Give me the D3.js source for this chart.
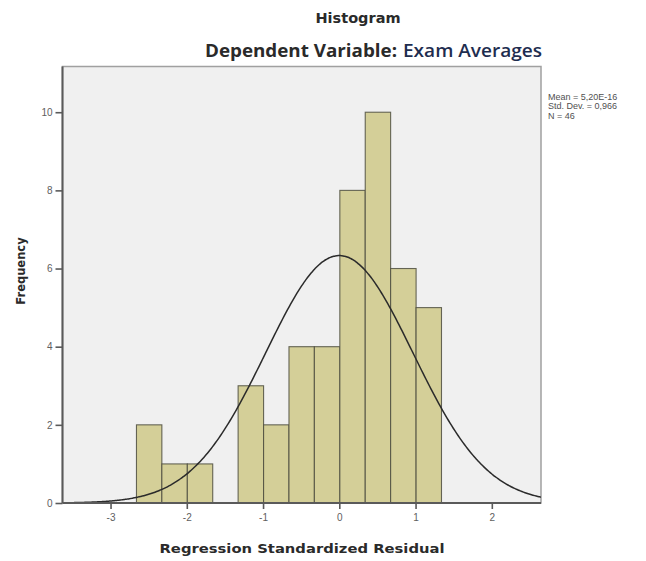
<!DOCTYPE html>
<html>
<head>
<meta charset="utf-8">
<script src="https://cdn.jsdelivr.net/npm/d3@7"></script>
<style>
  html, body { margin: 0; padding: 0; background: #ffffff; }
  svg { display: block; }
</style>
</head>
<body>
<svg id="chart" width="646" height="561"></svg>
<script>
// ---- data ----
const binEdges = [-2.66, -2.327, -1.993, -1.66, -1.327, -0.993, -0.66, -0.327, 0.007, 0.34, 0.673, 1.007, 1.34];
const counts   = [2, 1, 1, 0, 3, 2, 4, 4, 8, 10, 6, 5];
const xTicks = [-3, -2, -1, 0, 1, 2];
const yTicks = [0, 2, 4, 6, 8, 10];
const statMean = 5.20e-16;
const statSD = 0.966;
const statN = 46;
const statsLines = ["Mean = 5,20E-16", "Std. Dev. = 0,966", "N = 46"];
const titleText = "Histogram";
const subtitleA = "Dependent Variable:";
const subtitleB = "Exam Averages";
const xLabel = "Regression Standardized Residual";
const yLabel = "Frequency";

// ---- layout ----
const svg = d3.select("#chart");
const plot = { left: 62.5, right: 541, top: 66.5, bottom: 503 };

const x = d3.scaleLinear().domain([-3.63, 2.645]).range([plot.left, plot.right]);
const y = d3.scaleLinear().domain([0, 11.17]).range([plot.bottom, plot.top]);

// plot background
svg.append("rect")
  .attr("x", plot.left).attr("y", plot.top)
  .attr("width", plot.right - plot.left).attr("height", plot.bottom - plot.top)
  .attr("fill", "#f0f0f0")
  .attr("stroke", "#a0a0a0").attr("stroke-width", 1.5);

svg.append("clipPath").attr("id", "clip")
  .append("rect")
  .attr("x", plot.left).attr("y", plot.top)
  .attr("width", plot.right - plot.left).attr("height", plot.bottom - plot.top);

// bars
const bins = counts.map((c, i) => ({ x0: binEdges[i], x1: binEdges[i + 1], n: c }));
svg.append("g").selectAll("rect")
  .data(bins.filter(d => d.n > 0))
  .join("rect")
  .attr("x", d => x(d.x0))
  .attr("y", d => y(d.n))
  .attr("width", d => x(d.x1) - x(d.x0))
  .attr("height", d => y(0) - y(d.n))
  .attr("fill", "#d4cf98")
  .attr("stroke", "#4d4d40")
  .attr("stroke-opacity", 0.85)
  .attr("stroke-width", 1.1);

// normal curve (fitted from the stated mean, SD, N and bin width)
const scaleFactor = statN * (binEdges[binEdges.length - 1] - binEdges[0]) / counts.length;
const curvePts = d3.range(0, 301).map(i => {
  const xv = x.domain()[0] + (x.domain()[1] - x.domain()[0]) * i / 300;
  const z = (xv - statMean) / statSD;
  return [xv, scaleFactor * Math.exp(-0.5 * z * z) / (statSD * Math.sqrt(2 * Math.PI))];
});
svg.append("path")
  .datum(curvePts)
  .attr("clip-path", "url(#clip)")
  .attr("fill", "none")
  .attr("stroke", "#2b2b2b")
  .attr("stroke-width", 1.5)
  .attr("d", d3.line().x(d => x(d[0])).y(d => y(d[1])).curve(d3.curveBasis));

// axes
const xAxis = svg.append("g")
  .attr("transform", `translate(0,${plot.bottom})`)
  .call(d3.axisBottom(x).tickValues(xTicks).tickSize(6).tickPadding(5).tickFormat(d => String(d)));
const yAxis = svg.append("g")
  .attr("transform", `translate(${plot.left},0)`)
  .call(d3.axisLeft(y).tickValues(yTicks).tickSize(7).tickPadding(3).tickFormat(d => String(d)));

[xAxis, yAxis].forEach(g => {
  g.select(".domain").attr("stroke", "#5a5a5a").attr("stroke-width", 2);
  g.selectAll(".tick line").attr("stroke", "#5a5a5a").attr("stroke-width", 1.6);
  g.selectAll(".tick text")
    .attr("fill", "#606060")
    .style("font-family", "'Liberation Sans', Arial, sans-serif")
    .style("font-size", "10px");
});
xAxis.select(".domain").attr("d", `M${plot.left},0H${plot.right}`);
yAxis.select(".domain").attr("d", `M0,${plot.top}V${plot.bottom}`);

// titles
svg.append("text")
  .attr("x", 358).attr("y", 23)
  .attr("text-anchor", "middle")
  .style("font-family", "'DejaVu Sans', sans-serif")
  .style("font-weight", "bold")
  .style("font-size", "14.5px")
  .attr("fill", "#2a2a2a")
  .text(titleText);

svg.append("text")
  .attr("x", 205).attr("y", 57)
  .attr("textLength", 192).attr("lengthAdjust", "spacingAndGlyphs")
  .style("font-family", "'Open Sans', sans-serif")
  .style("font-weight", "bold")
  .style("font-size", "17px")
  .attr("fill", "#2a2a2a")
  .text(subtitleA);

svg.append("text")
  .attr("x", 403).attr("y", 57)
  .attr("textLength", 139).attr("lengthAdjust", "spacingAndGlyphs")
  .style("font-family", "'Open Sans', sans-serif")
  .style("font-weight", "600")
  .style("font-size", "18px")
  .attr("fill", "#1e2d4f")
  .text(subtitleB);

// axis labels
svg.append("text")
  .attr("x", 302).attr("y", 553)
  .attr("text-anchor", "middle")
  .attr("textLength", 285).attr("lengthAdjust", "spacingAndGlyphs")
  .style("font-family", "'DejaVu Sans', sans-serif")
  .style("font-weight", "bold")
  .style("font-size", "13px")
  .attr("fill", "#2a2a2a")
  .text(xLabel);

svg.append("text")
  .attr("transform", "translate(25,271) rotate(-90)")
  .attr("text-anchor", "middle")
  .style("font-family", "'DejaVu Sans', sans-serif")
  .style("font-weight", "bold")
  .style("font-size", "11.5px")
  .attr("fill", "#2a2a2a")
  .text(yLabel);

// stats box text
svg.append("g").selectAll("text")
  .data(statsLines)
  .join("text")
  .attr("x", 548)
  .attr("y", (d, i) => 100 + i * 9.3)
  .style("font-family", "'Liberation Sans', Arial, sans-serif")
  .style("font-size", "9px")
  .attr("fill", "#505050")
  .text(d => d);
</script>
</body>
</html>
